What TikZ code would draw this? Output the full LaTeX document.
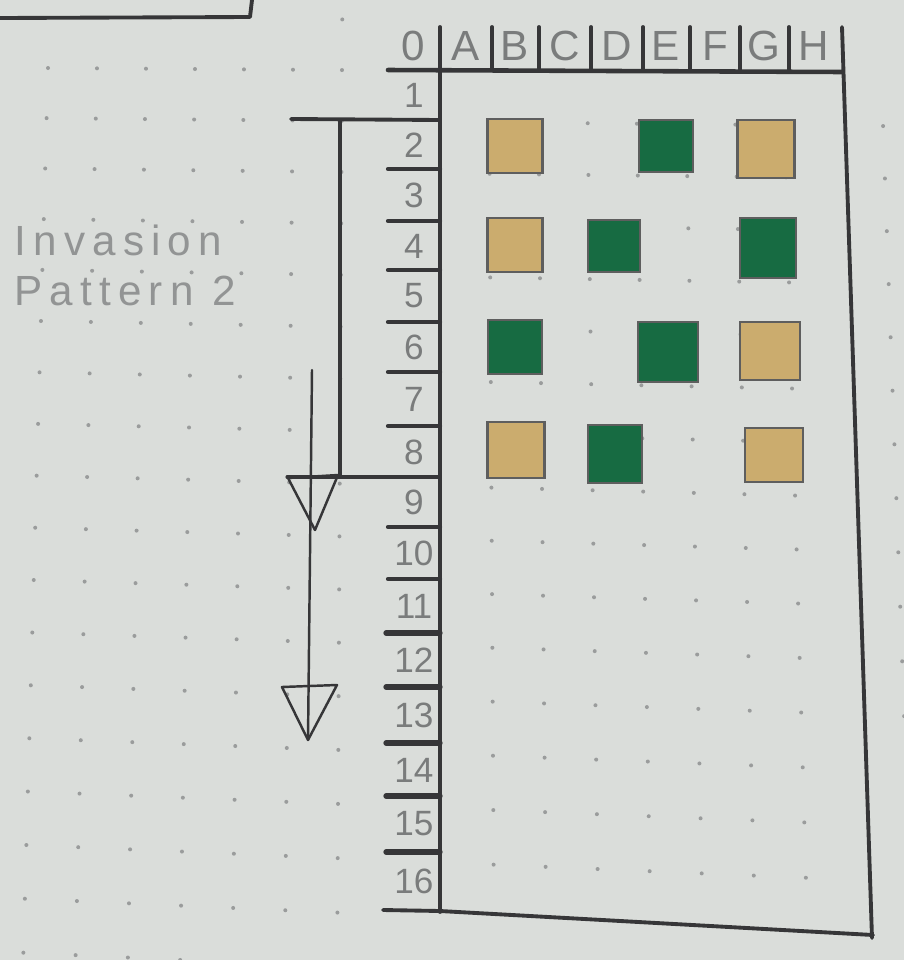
\documentclass[tikz,border=0pt]{standalone}
\usepackage{fontspec}
\setmainfont{Liberation Sans}
\newfontfamily\notefont{Liberation Sans}[LetterSpace=17]
\usepackage{xcolor}
\definecolor{papertone}{HTML}{DADDDA}
\definecolor{inkgray}{HTML}{363638}
\definecolor{penciltone}{HTML}{7A7C7C}
\definecolor{notetone}{HTML}{929494}
\definecolor{dotgray}{HTML}{9A9C9C}
\definecolor{tanfill}{HTML}{CBAC6E}
\definecolor{pinefill}{HTML}{176B42}
\definecolor{edgegray}{HTML}{5E5E5E}
\usepackage{tikz}
\usetikzlibrary{positioning,calc}
\tikzset{
    inv_ink/.style={draw=inkgray, line width=1.1pt, line cap=round, line join=round},
    inv_tick/.style={inv_ink, line width=1.2pt},
    inv_thin/.style={draw=inkgray, line width=0.7pt, line cap=round, line join=round},
    inv_head/.style={text=penciltone, font=\fontsize{12}{12}\selectfont, inner sep=0pt},
    inv_row/.style={text=penciltone, font=\fontsize{10}{10}\selectfont, inner sep=0pt},
    inv_note/.style={text=notetone, font=\notefont\fontsize{12}{14.4}\selectfont, align=left, inner sep=0pt, anchor=north west},
    inv_tan/.style={draw=edgegray, fill=tanfill, line width=0.6pt, inner sep=0pt, minimum width=5.5mm, minimum height=5.4mm},
    inv_green/.style={draw=edgegray, fill=pinefill, line width=0.6pt, inner sep=0pt, minimum width=5.4mm, minimum height=5.4mm},
    inv_dot/.style={fill=dotgray}
}

\begin{document}
\begin{tikzpicture}[x=0.1mm, y=-0.1mm]
\useasboundingbox (0,0) rectangle (904,960);
\clip (0,0) rectangle (904,960);
\fill[papertone] (0,0) rectangle (904,960);

% dotted paper
\foreach \i in {0,...,17}{
  \foreach \j in {-1,...,17}{
    \pgfmathsetmacro\xt{48+49*\i}
    \pgfmathsetmacro\yy{68+50*(\j)+0.12*(\j)*(\j)+(0.007+0.0025*(\j))*(\xt-48)}
    \pgfmathsetmacro\xx{413+(\xt-413)*(1+0.000082*(\yy-68))}
    \pgfmathtruncatemacro\skipdot{or(or(and(\xx>375,\xx<452),and(\yy<78,\xx>375)),or(or(and(\j<0,\xx<300),\i==16),and(\j>15,\xx>375)))}
    \ifnum\skipdot=0 \fill[inv_dot] (\xx,\yy) circle (0.2mm);\fi
  }
}

% box corner at the top
\draw[inv_ink] (0,18) -- (250,17) -- (252,0);

% note
\node[inv_note] (note) at (14,224) {Invasion\\Pattern 2};

% board frame
\draw[inv_ink, line width=1.3pt] (388,70) -- (842,72);
\draw[inv_ink] (440,27) -- (440,912);
\draw[inv_ink] (842,27) -- (872,938);
\draw[inv_ink] (383,910) -- (440,911) -- (873,935);
\foreach \sx in {492,539,591,643,690,740,789}
  \draw[inv_ink] (\sx,27) -- (\sx,70);

% column heads
\foreach \lab/\xc in {0/413,A/466,B/515,C/565,D/617,E/666,F/715,G/764,H/814}
  \node[inv_head] (head\lab) at (\xc,46) {\lab};

% row numbers and ticks
\foreach \num/\yc in {1/95,2/145,3/195,4/246,5/296,6/347,7/399,8/452,9/502,10/553,11/606,12/660,13/715,14/770,15/824,16/881}
  \node[inv_row] (row\num) at (414,\yc) {\num};
\foreach \ty in {169,221,270,322,372,426,527,579}
  \draw[inv_tick] (388,\ty) -- (440,\ty);
\foreach \ty in {633,687,743,796,852}
  \draw[inv_tick, line width=1.5pt] (386,\ty) -- (440,\ty);

% bracket rows 2 to 8
\coordinate (brTopL) at (291,119);
\coordinate (brTopR) at (440,120);
\coordinate (brMidT) at (340,120);
\coordinate (brMidB) at (340,477);
\coordinate (brBotL) at (287,477);
\coordinate (brBotR) at (440,477);
\draw[inv_ink] (brTopL) -- (brTopR);
\draw[inv_ink] (brMidT) -- (brMidB);
\draw[inv_thin, line width=0.9pt] (brBotL) -- (brBotR);

% arrow down
\coordinate (shaftTop) at (312,370);
\coordinate (shaftEnd) at (308,740);
\draw[inv_thin] (shaftTop) -- (shaftEnd);
\draw[inv_thin] (288,478) -- (338,475) -- (315,530) -- cycle;
\draw[inv_thin] (282,687) -- (337,685) -- (308,740) -- cycle;

% invaders
\node[inv_tan] (sqB2) at (515,146) {};
\node[inv_green, minimum height=5.2mm] (sqE2) at (666,146) {};
\node[inv_tan, minimum width=5.7mm, minimum height=5.8mm] (sqG2) at (766,149) {};
\node[inv_tan] (sqB4) at (515,245) {};
\node[inv_green, minimum width=5.2mm, minimum height=5.2mm] (sqD4) at (614,246) {};
\node[inv_green, minimum width=5.6mm, minimum height=6mm] (sqG4) at (768,248) {};
\node[inv_green] (sqB6) at (515,347) {};
\node[inv_green, minimum width=6mm, minimum height=6mm] (sqE6) at (668,352) {};
\node[inv_tan, minimum width=6mm, minimum height=5.8mm] (sqG6) at (770,351) {};
\node[inv_tan, minimum width=5.7mm, minimum height=5.6mm] (sqB8) at (516,450) {};
\node[inv_green, minimum height=5.8mm] (sqD8) at (615,454) {};
\node[inv_tan, minimum width=5.8mm] (sqG8) at (774,455) {};
\end{tikzpicture}
\end{document}
